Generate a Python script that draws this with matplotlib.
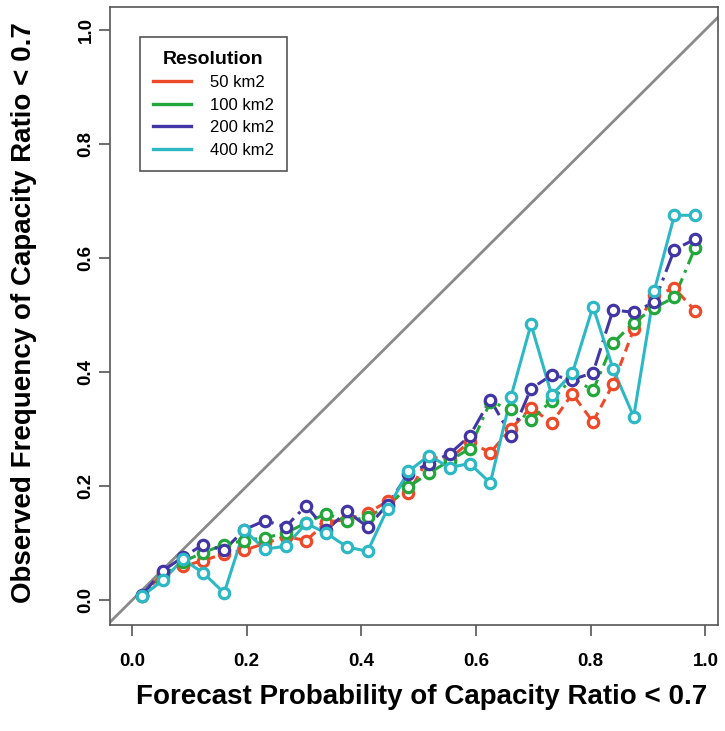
import matplotlib
matplotlib.use("Agg")
import matplotlib.pyplot as plt
from matplotlib.lines import Line2D

plt.rcParams['font.family'] = ['Liberation Sans', 'DejaVu Sans']

# Forecast probability bin centres
forecast = [0.018, 0.054, 0.089, 0.125, 0.161, 0.196, 0.232, 0.268, 0.304, 0.339,
            0.375, 0.411, 0.446, 0.482, 0.518, 0.554, 0.589, 0.625, 0.661, 0.696,
            0.732, 0.768, 0.804, 0.839, 0.875, 0.911, 0.946, 0.982]

obs_50 = [0.008, 0.048, 0.060, 0.070, 0.082, 0.088, 0.100, 0.112, 0.105, 0.137,
          0.142, 0.153, 0.174, 0.188, 0.251, 0.248, 0.278, 0.259, 0.301, 0.338,
          0.311, 0.362, 0.313, 0.379, 0.475, 0.535, 0.547, 0.508]
obs_100 = [0.008, 0.042, 0.068, 0.084, 0.098, 0.105, 0.110, 0.118, 0.136, 0.152,
           0.139, 0.146, 0.166, 0.199, 0.223, 0.245, 0.266, 0.348, 0.335, 0.317,
           0.350, 0.390, 0.368, 0.451, 0.487, 0.513, 0.531, 0.618]
obs_200 = [0.010, 0.052, 0.076, 0.098, 0.088, 0.124, 0.140, 0.129, 0.166, 0.123,
           0.156, 0.129, 0.168, 0.222, 0.240, 0.257, 0.288, 0.352, 0.289, 0.371,
           0.395, 0.387, 0.399, 0.509, 0.505, 0.523, 0.615, 0.633]
obs_400 = [0.008, 0.035, 0.072, 0.048, 0.013, 0.123, 0.090, 0.095, 0.135, 0.118,
           0.094, 0.086, 0.161, 0.226, 0.254, 0.233, 0.240, 0.206, 0.357, 0.484,
           0.360, 0.398, 0.515, 0.406, 0.322, 0.543, 0.675, 0.675]

series_labels = ["50 km2", "100 km2", "200 km2", "400 km2"]
series_data = [obs_50, obs_100, obs_200, obs_400]
colors = ["#EE4A2A", "#22A83A", "#4236A6", "#2CB8C4"]
styles = [(0, (3, 2)), (0, (4, 2, 1, 2)), (0, (6, 2, 1, 2)), "-"]

xticks = [0.0, 0.2, 0.4, 0.6, 0.8, 1.0]
yticks = [0.0, 0.2, 0.4, 0.6, 0.8, 1.0]

W, H = 725, 731
fig = plt.figure(figsize=(W / 100, H / 100), dpi=100)
left, right, top, bottom = 110, 718, 7, 625
ax = fig.add_axes([left / W, 1 - bottom / H, (right - left) / W, (bottom - top) / H])

ax.set_xlim(-0.038, 1.022)
ax.set_ylim(-0.043, 1.04)

ax.axline((0, 0), slope=1, color="#8a8a8a", lw=2.0, zorder=1)

for lab, ys, c, ls in zip(series_labels, series_data, colors, styles):
    ax.plot(forecast, ys, color=c, lw=2.2, linestyle=ls, zorder=2)
    ax.plot(forecast, ys, linestyle="none", marker="o", ms=7.5, mfc="white",
            mec=c, mew=2.3, zorder=3)

for s in ax.spines.values():
    s.set_color("#555555")
    s.set_linewidth(1.2)

ax.set_xticks(xticks)
ax.set_yticks(yticks)
ax.set_xticklabels([f"{v:.1f}" for v in xticks], fontsize=13.5, fontweight="bold")
ax.set_yticklabels([f"{v:.1f}" for v in yticks], fontsize=13.5, fontweight="bold",
                   rotation=90, va="center")
ax.tick_params(axis="both", direction="out", length=8, width=1.2, color="#555555")
ax.tick_params(axis="x", pad=12)
ax.tick_params(axis="y", pad=3)

ax.set_xlabel("Forecast Probability of Capacity Ratio < 0.7", fontsize=20,
              fontweight="bold")
ax.set_ylabel("Observed Frequency of Capacity Ratio < 0.7", fontsize=20,
              fontweight="bold")
ax.xaxis.set_label_coords(0.512, -0.095)
ax.yaxis.set_label_coords(-0.12, 0.505)

handles = [Line2D([0], [0], color=c, lw=2.4) for c in colors]
leg = ax.legend(handles, series_labels, title="Resolution", loc="upper left",
                bbox_to_anchor=(0.049, 0.951), borderaxespad=0, fontsize=12,
                handlelength=2.3, handletextpad=1.1, labelspacing=0.45,
                borderpad=0.8, fancybox=False, edgecolor="#555555", framealpha=1)
leg.get_title().set_fontweight("bold")
leg.get_title().set_fontsize(14)
leg.get_frame().set_linewidth(1.2)

fig.savefig("out.png", dpi=100)
